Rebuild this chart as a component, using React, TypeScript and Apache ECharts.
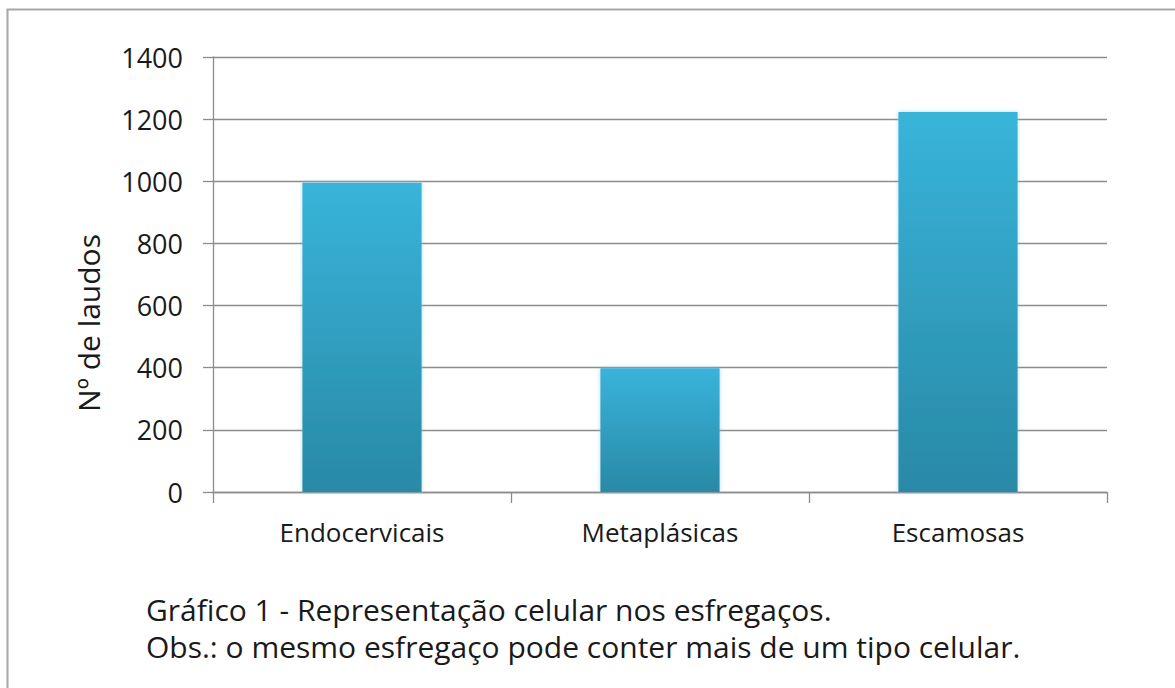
import React, { useEffect, useRef } from "react";
import * as echarts from "echarts";

const categories = ["Endocervicais", "Metaplásicas", "Escamosas"];
const values = [995, 398, 1223];
const yTicks = { min: 0, max: 1400, interval: 200 };
const yTitle = "Nº de laudos";
const captionLines = [
  "Gráfico 1 - Representação celular nos esfregaços.",
  "Obs.: o mesmo esfregaço pode conter mais de um tipo celular.",
];

const FONT = "'Open Sans', 'Noto Sans', sans-serif";
const TEXT = "#1a1a1a";
const LINE = "#8c8c8c";

export default function App() {
  const ref = useRef<HTMLDivElement>(null);
  useEffect(() => {
    if (!ref.current) return;
    const chart = echarts.init(ref.current, undefined, { renderer: "svg" });
    chart.setOption({
      animation: false,
      backgroundColor: "#ffffff",
      grid: { left: 213, right: 68, top: 57, bottom: 196, containLabel: false },
      xAxis: {
        type: "category",
        data: categories,
        axisLine: { show: true, lineStyle: { color: LINE, width: 1.3 } },
        axisTick: { show: true, length: 11, alignWithLabel: false, lineStyle: { color: LINE, width: 1.3 } },
        axisLabel: { color: TEXT, fontFamily: FONT, fontSize: 26, margin: 27 },
        splitLine: { show: false },
      },
      yAxis: {
        type: "value",
        min: yTicks.min,
        max: yTicks.max,
        interval: yTicks.interval,
        axisLine: { show: true, lineStyle: { color: LINE, width: 1.3 } },
        axisTick: { show: true, length: 10, lineStyle: { color: LINE, width: 1.3 } },
        axisLabel: {
          color: TEXT,
          fontFamily: FONT,
          fontSize: 27,
          margin: 30,
          formatter: (v: number) => String(v),
        },
        splitLine: { show: true, lineStyle: { color: LINE, width: 1.3 } },
      },
      series: [
        {
          type: "bar",
          data: values,
          barWidth: "40%",
          itemStyle: {
            color: new echarts.graphic.LinearGradient(0, 0, 0, 1, [
              { offset: 0, color: "#38b4da" },
              { offset: 1, color: "#2989a6" },
            ]),
            shadowColor: "rgba(120,200,230,0.6)",
            shadowBlur: 4,
          },
        },
      ],
      graphic: [
        {
          type: "rect",
          shape: { x: 7.5, y: 9.5, width: 1300, height: 800 },
          style: { fill: "none", stroke: "#a6a6a6", lineWidth: 2 },
          silent: true,
        },
        {
          type: "text",
          x: 88,
          y: 323,
          rotation: Math.PI / 2,
          style: {
            text: yTitle,
            fill: TEXT,
            font: `30px ${FONT}`,
            align: "center",
            verticalAlign: "middle",
          },
        },
        ...captionLines.map((t, i) => ({
          type: "text",
          x: 146,
          y: 609 + i * 37,
          style: {
            text: t,
            fill: TEXT,
            font: `30px ${FONT}`,
            align: "left",
            verticalAlign: "middle",
          },
        })),
      ],
    });
    return () => chart.dispose();
  }, []);
  return (
    <div
      ref={ref}
      style={{ position: "absolute", left: 0, top: 0, width: 1175, height: 688 }}
    />
  );
}
